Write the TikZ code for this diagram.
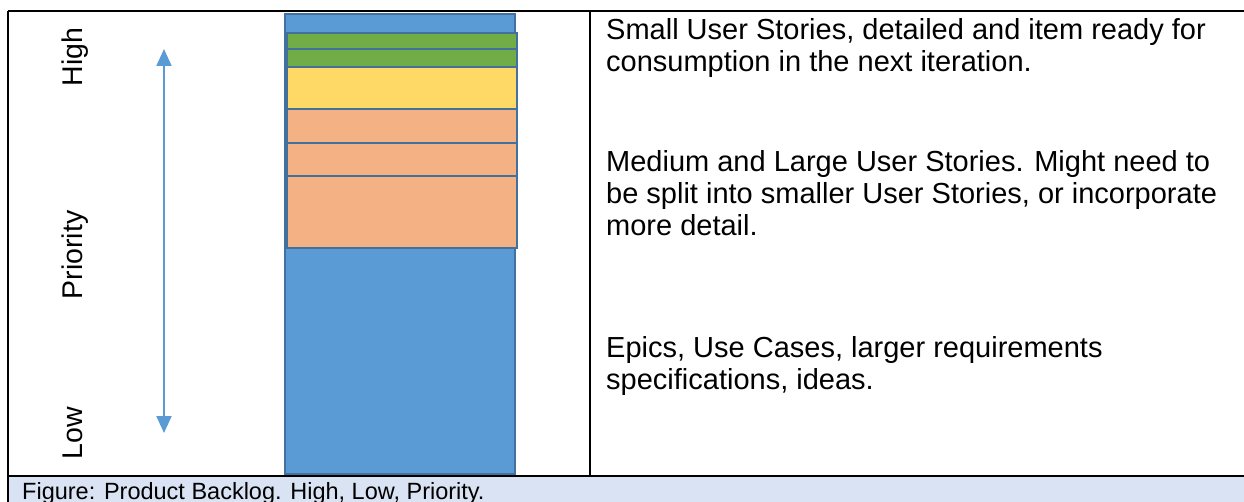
\documentclass[tikz,border=0pt]{standalone}
\usepackage{fontspec}
\setmainfont{Liberation Sans}
\usetikzlibrary{arrows.meta}
\definecolor{barblue}{HTML}{5B9BD5}
\definecolor{baredge}{HTML}{41719C}
\definecolor{storygreen}{HTML}{70AD47}
\definecolor{storyyellow}{HTML}{FFD966}
\definecolor{storyorange}{HTML}{F4B183}
\definecolor{captionblue}{HTML}{DAE3F3}
\tikzstyle{frame}=[line width=2.2pt, black]
\tikzstyle{band}=[draw=baredge, line width=2.5pt]
\tikzstyle{prio}=[draw=barblue, line width=2pt,
               {Triangle[length=17pt,width=15pt]}-{Triangle[length=17pt,width=15pt]}]
\tikzstyle{axislabel}=[rotate=90, anchor=base, inner sep=0pt,
               font=\fontsize{28.5}{32}\selectfont]
\tikzstyle{note}=[anchor=base west, inner sep=0pt, align=left,
               font=\fontsize{29}{32}\selectfont]

\begin{document}
\begin{tikzpicture}[x=1pt, y=-1pt]
\useasboundingbox (0,0) rectangle (1244,502);
\def \barleft {285}
\def \barright {515}

% caption band and table lines
\fill[captionblue] (8,476) rectangle (1244,502);
\draw[frame] (8,11) -- (1244,11);
\draw[frame] (8,11) -- (8,502);
\draw[frame] (590,11) -- (590,476);
\draw[frame] (8,476) -- (1244,476);
\node[anchor=base west, inner sep=0pt, font=\fontsize{23.5}{28}\selectfont]
  at (22,499) (caption) {Figure: Product Backlog. High, Low, Priority.};

% priority axis
\node[axislabel] at (82,57) (high) {High};
\node[axislabel] at (82,255) (prio) {Priority};
\node[axislabel] at (82,433) (low) {Low};
\coordinate (hightip) at (164,49);
\coordinate (lowtip) at (164,433);
\draw[prio] (lowtip) -- (hightip);

% the backlog
\draw[band, fill=barblue] (\barleft,14) rectangle (\barright,474);
\foreach \top/\bot/\col in {33/49/storygreen, 49/67/storygreen,
    67/109/storyyellow, 109/143/storyorange, 143/176/storyorange,
    176/248/storyorange}
{
  \draw[band, fill=\col] (\barleft+2,\top) rectangle (\barright+2,\bot);
}

% descriptions (anchored on the last line)
\node[note] at (606,72) (small) {Small User Stories, detailed and item ready for\\
  consumption in the next iteration.};
\node[note] at (606,236) (medium) {Medium and Large User Stories. Might need to\\
  be split into smaller User Stories, or incorporate\\ more detail.};
\node[note] at (606,389) (epics) {Epics, Use Cases, larger requirements\\
  specifications, ideas.};
\end{tikzpicture}
\end{document}
